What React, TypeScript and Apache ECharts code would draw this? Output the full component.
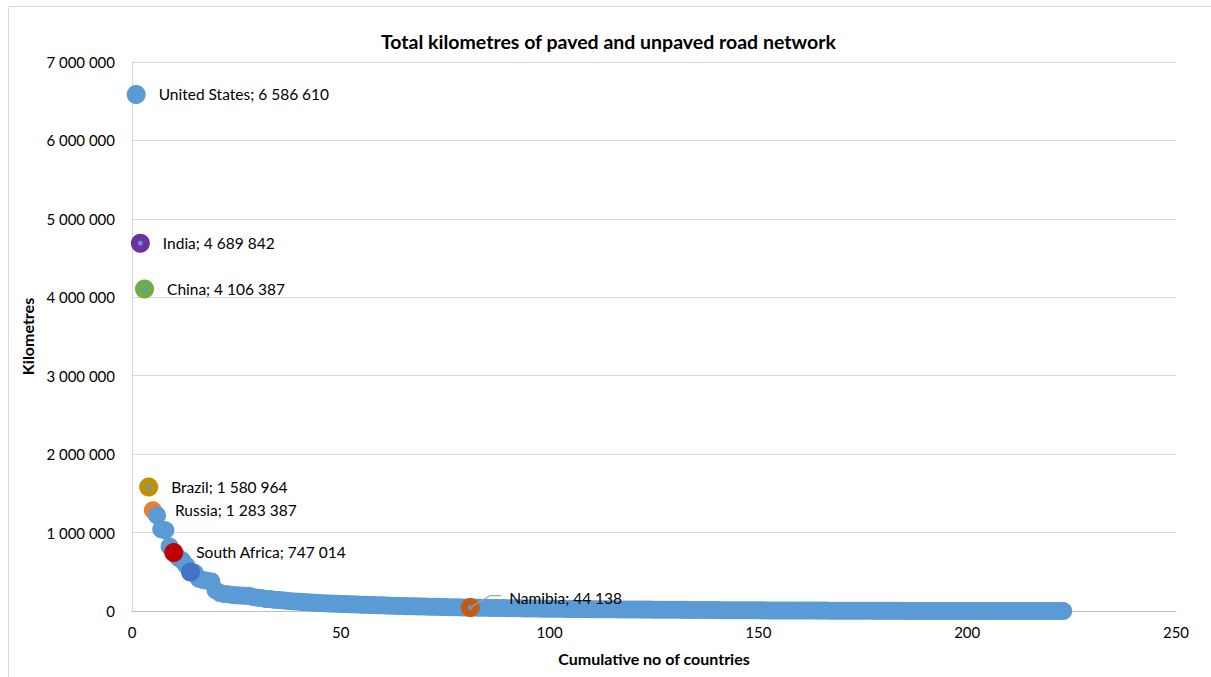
import React, { useEffect, useRef } from "react";
import * as echarts from "echarts";

// Road network length (km) per country, sorted from largest to smallest.
// Rank on the x axis is the position in this list (1-based).
const roadKm: number[] = [
  6586610, 4689842, 4106387, 1580964, 1283387, 1218772, 1042300, 1028446, 823217, 747014,
  683175, 645000, 579564, 496607, 487700, 412264, 394428, 385754, 377660,
  263942, 231374, 216067, 213151, 204855, 199567, 198866, 195468, 193200, 180053, 169694,
  166046, 154012, 152000, 144403, 139295, 136920, 130421, 124508, 121233, 117500,
  113600, 110414, 106990, 104600, 101200, 98560, 96000, 94340, 92000, 90200,
  87800, 86000, 84620, 82100, 80300, 78400, 76800, 75100, 73400, 71800,
  70100, 68500, 66900, 65300, 63700, 62100, 60600, 59100, 57800, 56400,
  55100, 53900, 52700, 51600, 50400, 49300, 48200, 47100, 46000, 45100,
  44138,
  43200, 42300, 41500, 40600, 39800, 38900, 38100, 37300, 36500,
  35700, 34900, 34100, 33400, 32700, 32000, 31300, 30600, 29900, 29300,
  28700, 28100, 27500, 26900, 26300, 25800, 25200, 24700, 24200, 23700,
  23200, 22700, 22200, 21800, 21300, 20900, 20400, 20000, 19600, 19200,
  18800, 18400, 18000, 17600, 17200, 16800, 16500, 16100, 15800, 15400, 15100, 14800, 14500, 14200, 13900,
  12400, 12100, 11800, 11500, 11200, 10900, 10600, 10300, 10000, 9700, 9450, 9200, 8950, 8700, 8450,
  8200, 7950, 7700, 7450, 7200, 6980, 6760, 6540, 6320, 6100, 5900, 5700, 5500, 5300, 5100, 4920, 4740, 4560, 4380, 4200, 4030, 3860, 3700,
  2600, 2480, 2360, 2250, 2140, 2040, 1940, 1850, 1760, 1680,
  1600, 1520, 1450, 1380, 1310, 1250, 1190, 1130, 1080, 1030,
  980, 930, 880, 840, 800, 760, 720, 680, 640, 600,
  560, 520, 480, 440, 400, 360, 320, 290, 260, 230,
  200, 170, 140, 110, 90, 70, 50, 35, 20, 10,
];

// Countries singled out with their own marker colour.
const highlightNames: string[] = ["United States", "India", "China", "Brazil", "Russia", "South Africa", "Indonesia", "Namibia"];
const highlightRanks: number[] = [1, 2, 3, 4, 5, 10, 14, 81];
const highlightColors: string[] = ["#5b9bd5", "#7030a0", "#70ad47", "#bf9000", "#ed7d31", "#c00000", "#4472c4", "#c55a11"];
const labelledNames: string[] = ["United States", "India", "China", "Brazil", "Russia", "South Africa"];
const calloutNames: string[] = ["Namibia"];
const centreDotNames: string[] = ["India", "China", "Brazil", "Namibia"];

const xTicks = { min: 0, max: 250, step: 50 };
const yTicks = { min: 0, max: 7000000, step: 1000000 };

const FONT = "Lato, 'Open Sans', sans-serif";
const SERIES_BLUE = "#5b9bd5";
const LABEL_SIZE = 15.5;

const spaced = (v: number): string => String(Math.round(v)).replace(/\B(?=(\d{3})+(?!\d))/g, " ");

export default function App() {
  const ref = useRef<HTMLDivElement | null>(null);

  useEffect(() => {
    if (!ref.current) return;
    const chart = echarts.init(ref.current, undefined, { renderer: "svg" });

    const labelText = (name: string, rank: number) => `${name}; ${spaced(roadKm[rank - 1])}`;
    const baseLabel = {
      show: true,
      position: "right",
      distance: 13,
      fontFamily: FONT,
      fontSize: LABEL_SIZE,
      color: "#000",
    };

    const rankOf = (name: string) => highlightRanks[highlightNames.indexOf(name)];
    const russiaIdx = highlightNames.indexOf("Russia");
    const russiaRank = highlightRanks[russiaIdx];

    // All countries; Russia is coloured in place so the next point overlaps it.
    const mainData = roadKm.map((v, i) => {
      const rank = i + 1;
      if (rank === russiaRank) {
        return {
          value: [rank, v],
          itemStyle: { color: highlightColors[russiaIdx] },
          label: { ...baseLabel, formatter: labelText("Russia", rank) },
        };
      }
      return [rank, v];
    });

    const overlayData = highlightNames
      .map((name, i) => ({ name, rank: highlightRanks[i], color: highlightColors[i] }))
      .filter((h) => h.name !== "Russia")
      .map((h) => {
        const item: any = {
          value: [h.rank, roadKm[h.rank - 1]],
          itemStyle: { color: h.color },
        };
        if (labelledNames.includes(h.name)) {
          item.label = { ...baseLabel, formatter: labelText(h.name, h.rank) };
        }
        return item;
      });

    const dotData = centreDotNames.map((name) => [rankOf(name), roadKm[rankOf(name) - 1]]);

    const calloutData = calloutNames.map((name) => ({
      name,
      value: [rankOf(name), roadKm[rankOf(name) - 1]],
    }));

    chart.setOption({
      animation: false,
      backgroundColor: "#ffffff",
      title: {
        text: "Total kilometres of paved and unpaved road network",
        left: 381,
        top: 31,
        padding: 0,
        textStyle: { fontFamily: FONT, fontSize: 19.5, fontWeight: "bold", color: "#000" },
      },
      graphic: [
        {
          type: "rect",
          silent: true,
          shape: { x: 8.5, y: 6.5, width: 1400, height: 900 },
          style: { fill: "none", stroke: "#d9d9d9", lineWidth: 1 },
        },
      ],
      grid: { left: 132, right: 35, top: 62, bottom: 66, containLabel: false },
      xAxis: {
        type: "value",
        min: xTicks.min,
        max: xTicks.max,
        interval: xTicks.step,
        name: "Cumulative no of countries",
        nameLocation: "middle",
        nameGap: 39,
        nameTextStyle: { fontFamily: FONT, fontSize: 16, fontWeight: "bold", color: "#000" },
        axisLine: { show: true, lineStyle: { color: "#bfbfbf", width: 1 } },
        axisTick: { show: false },
        splitLine: { show: false },
        axisLabel: { margin: 13, fontFamily: FONT, fontSize: 15, color: "#000" },
      },
      yAxis: {
        type: "value",
        min: yTicks.min,
        max: yTicks.max,
        interval: yTicks.step,
        name: "Kilometres",
        nameLocation: "middle",
        nameGap: 96,
        nameRotate: 90,
        nameTextStyle: { fontFamily: FONT, fontSize: 16, fontWeight: "bold", color: "#000" },
        axisLine: { show: true, lineStyle: { color: "#d9d9d9", width: 1 } },
        axisTick: { show: false },
        splitLine: { show: true, lineStyle: { color: "#d9d9d9", width: 1 } },
        axisLabel: { margin: 17, fontFamily: FONT, fontSize: 15, color: "#000", formatter: (v: number) => spaced(v) },
      },
      series: [
        {
          name: "Road network",
          type: "scatter",
          symbol: "circle",
          symbolSize: 18,
          itemStyle: { color: SERIES_BLUE, opacity: 1 },
          data: mainData,
          z: 2,
        },
        {
          name: "Highlighted",
          type: "scatter",
          symbol: "circle",
          symbolSize: 19,
          itemStyle: { opacity: 1 },
          data: overlayData,
          z: 3,
        },
        {
          // Data label with a leader line, anchored on the point through the axes.
          name: "Callout",
          type: "custom",
          silent: true,
          z: 4,
          data: calloutData,
          renderItem: (params: any, api: any) => {
            const x = api.value(0);
            const y = api.value(1);
            const [px, py] = api.coord([x, y]);
            const name = calloutNames[params.dataIndex];
            return {
              type: "group",
              children: [
                {
                  type: "polyline",
                  shape: { points: [[px, py], [px + 20, py - 12], [px + 31, py - 12]] },
                  style: { stroke: "#a6a6a6", lineWidth: 1.3, fill: "none" },
                },
                {
                  type: "text",
                  x: px + 39,
                  y: py - 10,
                  style: {
                    text: `${name}; ${spaced(y)}`,
                    fontFamily: FONT,
                    fontSize: LABEL_SIZE,
                    fill: "#000",
                    align: "left",
                    verticalAlign: "middle",
                  },
                },
              ],
            };
          },
        },
        {
          name: "Centre",
          type: "scatter",
          symbol: "circle",
          symbolSize: 5,
          itemStyle: { color: SERIES_BLUE, opacity: 1 },
          data: dotData,
          silent: true,
          z: 5,
        },
      ],
    });

    return () => chart.dispose();
  }, []);

  return <div ref={ref} style={{ position: "absolute", left: 0, top: 0, width: 1211, height: 677 }} />;
}
